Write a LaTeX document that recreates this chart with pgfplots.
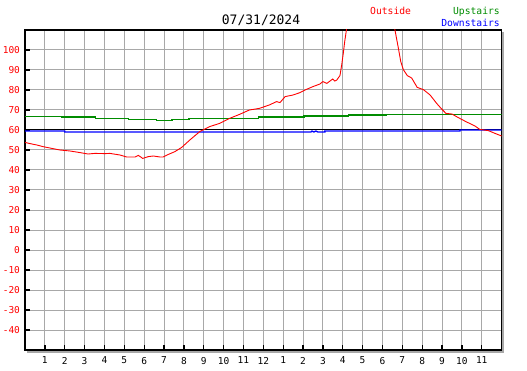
\documentclass[border=0pt]{standalone}
\usepackage{fontspec}
\setmonofont{DejaVu Sans Mono}
\usepackage{pgfplots}
\pgfplotsset{compat=1.18}
\definecolor{gridgray}{RGB}{168,168,168}
\definecolor{upgreen}{RGB}{0,140,0}
\begin{document}
\begin{tikzpicture}
\useasboundingbox (0,0) rectangle (527pt,370pt);
\fill[gridgray] (27pt,17.5pt) rectangle (504pt,338pt);
\begin{axis}[
  at={(25pt,20pt)}, anchor=south west, scale only axis,
  width=476.6pt, height=320pt,
  xmin=0, xmax=24, ymin=-50, ymax=110,
  axis background/.style={fill=white},
  xtick={1,...,23},
  xticklabels={1,2,3,4,5,6,7,8,9,10,11,12,1,2,3,4,5,6,7,8,9,10,11},
  ytick={-40,-30,-20,-10,0,10,20,30,40,50,60,70,80,90,100},
  yticklabels={-40,-30,-20,-10,0,10,20,30,40,50,60,70,80,90,100},
  grid=major, major grid style={color=gridgray, line width=1pt},
  axis line style={black, line width=1.6pt},
  tick style={black, line width=1.3pt},
  tick align=inside, major tick length=5pt,
  xtick pos=bottom, ytick pos=left,
  ticklabel style={font=\ttfamily\fontsize{9.5}{10}\selectfont},
  yticklabel style={red, xshift=-1.5pt},
  xticklabel style={black, yshift=-3.5pt},
]
\addplot[black, line width=1pt] coordinates {(0,60) (24,60)};
\addplot[upgreen, line width=1.1pt] coordinates {
(0,66.8)(1.85,66.8)(1.85,66.5)(3.53,66.5)(3.53,65.8)(5.2,65.8)(5.2,65.3)(6.63,65.3)(6.63,64.8)(7.4,64.8)(7.4,65.3)(8.26,65.3)(8.26,65.8)(11.78,65.8)(11.78,66.5)(14.05,66.5)(14.05,67)(16.3,67)(16.3,67.5)(18.18,67.5)(18.18,67.8)(24,67.8)};
\addplot[blue, line width=1.3pt] coordinates {
(0,59.5)(2.0,59.5)(2.0,59)(14.4,59)(14.45,59.5)(14.55,59)(14.65,59.5)(14.75,59)(15.1,59)(15.1,59.5)(21.9,59.5)(21.9,60)(24,60)};
\addplot[red, line width=0.9pt] coordinates {
(0,53.8)(0.25,53.2)(0.6,52.5)(0.9,51.7)(1.35,50.8)(1.76,50)(2.27,49.5)(2.77,48.7)(3.17,48)(3.52,48.3)(4.03,48.2)(4.28,48.3)(4.78,47.5)(5.12,46.5)(5.54,46.5)(5.71,47.3)(5.93,45.8)(6.21,46.7)(6.46,47)(6.8,46.5)(6.96,46.5)(7.22,47.8)(7.55,49.2)(7.89,51.3)(8.3,55)(8.8,59.2)(9.3,61.7)(9.8,63.3)(10.3,65.8)(10.8,67.8)(11.3,70)(11.8,70.8)(12.3,72.5)(12.67,74.2)(12.84,73.7)(13.1,76.7)(13.5,77.5)(13.85,78.7)(14.1,80)(14.5,81.7)(14.85,83)(15.0,84.2)(15.2,83.3)(15.36,84.5)(15.5,85.5)(15.6,84.5)(15.7,85)(15.86,87.2)(15.95,92.7)(16.03,98.5)(16.1,104.3)(16.2,111)(16.35,122)
(18.45,122)(18.63,110)(18.8,101)(18.92,94.3)(19.05,90.2)(19.25,87.2)(19.47,86)(19.75,81.3)(20.06,80.2)(20.4,77.5)(20.73,73.3)(20.98,70.5)(21.2,68.3)(21.5,68)(21.8,66.3)(22.2,64.2)(22.66,62)(22.9,60.3)(23.33,59.7)(23.67,58.3)(24,57)};
\end{axis}
\node[anchor=base, font=\ttfamily\fontsize{13}{14}\selectfont, inner sep=0pt] at (261pt,345pt) {07/31/2024};
\node[anchor=base west, font=\ttfamily\fontsize{9.7}{10}\selectfont, text=red, inner sep=0pt] at (370pt,355pt) {Outside};
\node[anchor=base east, font=\ttfamily\fontsize{9.7}{10}\selectfont, text=upgreen, inner sep=0pt] at (500pt,355pt) {Upstairs};
\node[anchor=base east, font=\ttfamily\fontsize{9.7}{10}\selectfont, text=blue, inner sep=0pt] at (500pt,343.3pt) {Downstairs};
\end{tikzpicture}
\end{document}
